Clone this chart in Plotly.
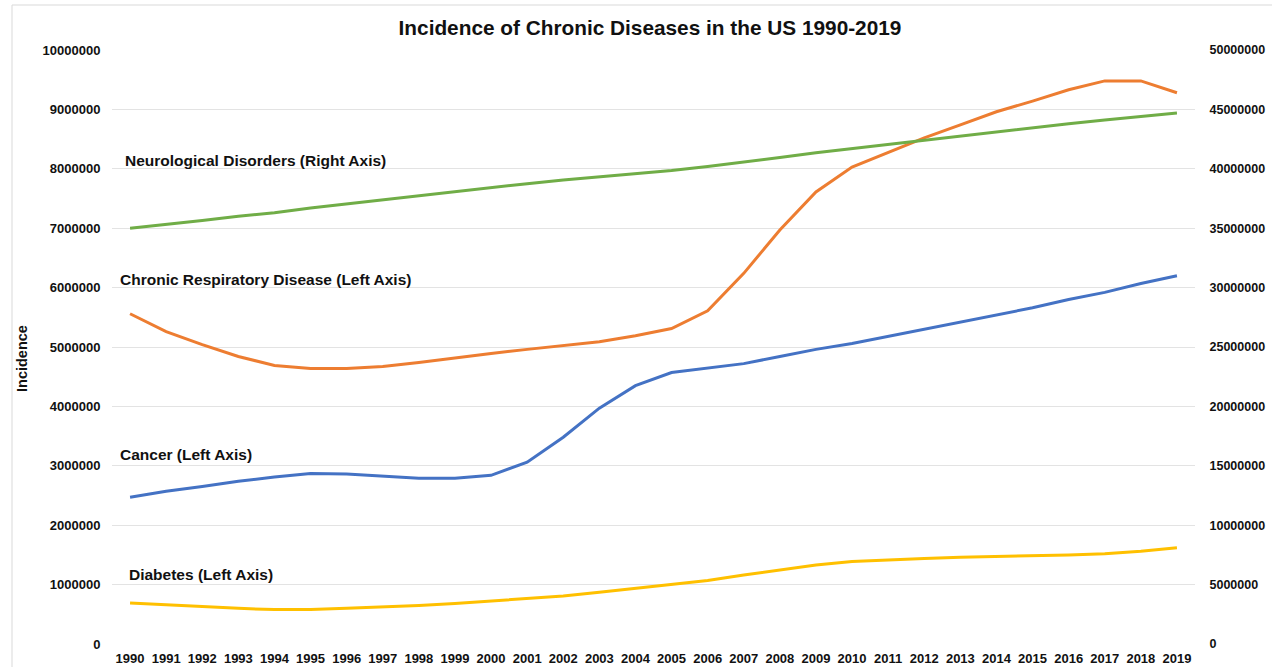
import plotly.graph_objects as go

years = list(range(1990, 2020))

neuro_right = [35.0, 35.3, 35.65, 36.0, 36.3, 36.7, 37.05, 37.4, 37.75, 38.1,
               38.4, 38.75, 39.05, 39.3, 39.55, 39.85, 40.2, 40.55, 40.95, 41.35,
               41.7, 42.1, 42.45, 42.8, 43.15, 43.5, 43.8, 44.1, 44.4, 44.7]
neuro_right = [v * 1e6 for v in neuro_right]

respiratory = [5.56, 5.26, 5.04, 4.84, 4.69, 4.64, 4.64, 4.67, 4.74, 4.82,
               4.89, 4.96, 5.03, 5.09, 5.19, 5.31, 5.61, 6.24, 6.97, 7.61,
               8.03, 8.27, 8.52, 8.74, 8.96, 9.14, 9.33, 9.48, 9.48, 9.28]
respiratory = [v * 1e6 for v in respiratory]

cancer = [2.47, 2.57, 2.65, 2.74, 2.81, 2.87, 2.86, 2.82, 2.79, 2.79,
          2.84, 3.06, 3.48, 3.97, 4.35, 4.57, 4.64, 4.72, 4.84, 4.96,
          5.06, 5.18, 5.29, 5.41, 5.53, 5.66, 5.80, 5.92, 6.07, 6.20]
cancer = [v * 1e6 for v in cancer]

diabetes = [0.69, 0.66, 0.62, 0.60, 0.58, 0.58, 0.60, 0.62, 0.65, 0.68,
            0.72, 0.76, 0.81, 0.87, 0.94, 1.00, 1.07, 1.16, 1.25, 1.33,
            1.39, 1.42, 1.44, 1.46, 1.47, 1.49, 1.50, 1.52, 1.56, 1.62]
diabetes = [v * 1e6 for v in diabetes]

series_labels = ["Neurological Disorders (Right Axis)",
                 "Chronic Respiratory Disease (Left Axis)",
                 "Cancer (Left Axis)",
                 "Diabetes (Left Axis)"]

FONT = "Liberation Sans, Arial, sans-serif"

fig = go.Figure()
fig.add_trace(go.Scatter(x=years, y=diabetes, mode="lines", name=series_labels[3],
                         line=dict(color="#FFC000", width=3)))
fig.add_trace(go.Scatter(x=years, y=cancer, mode="lines", name=series_labels[2],
                         line=dict(color="#4472C4", width=3)))
fig.add_trace(go.Scatter(x=years, y=respiratory, mode="lines", name=series_labels[1],
                         line=dict(color="#ED7D31", width=3)))
fig.add_trace(go.Scatter(x=years, y=neuro_right, mode="lines", name=series_labels[0],
                         line=dict(color="#70AD47", width=3), yaxis="y2"))

ann_pos = [(0.0102, 0.8148), (0.0055, 0.6128), (0.0055, 0.3182), (0.0139, 0.1162)]
annotations = []
for txt, (ax, ay) in zip(series_labels, ann_pos):
    annotations.append(dict(text="<b>%s</b>" % txt, x=ax, y=ay, xref="paper", yref="paper",
                            xanchor="left", yanchor="middle", showarrow=False,
                            font=dict(family=FONT, size=15.5, color="#111")))
annotations.append(dict(text="<b>Incidence</b>", x=-0.0831, y=0.4798, xref="paper", yref="paper",
                        xanchor="center", yanchor="middle", showarrow=False, textangle=-90,
                        font=dict(family=FONT, size=14.5, color="#111")))

tickfont = dict(family=FONT, size=13, color="#111", weight="bold")
tickfont_right = dict(family=FONT, size=12.5, color="#111", weight="bold")

fig.update_layout(
    width=1272, height=667,
    margin=dict(l=112, r=77, t=50, b=23, autoexpand=False),
    paper_bgcolor="white", plot_bgcolor="white",
    showlegend=False,
    title=dict(text="<b>Incidence of Chronic Diseases in the US 1990-2019</b>",
               x=650 / 1272, xanchor="center", y=1 - 28 / 667, yanchor="middle",
               font=dict(family=FONT, size=20.8, color="#111")),
    xaxis=dict(range=[1989.5, 2019.5], dtick=1, tick0=1990, showgrid=False,
               zeroline=False, showline=False, ticks="outside", ticklen=2,
               tickcolor="rgba(0,0,0,0)", tickfont=tickfont, automargin=False),
    yaxis=dict(range=[0, 10000000], dtick=1000000, tickformat="d",
               showgrid=True, gridcolor="#e3e3e3", gridwidth=1, zeroline=False,
               ticks="outside", ticklen=8, tickcolor="rgba(0,0,0,0)",
               tickfont=tickfont, automargin=False),
    yaxis2=dict(range=[0, 50000000], dtick=5000000, tickformat="d", overlaying="y",
                side="right", showgrid=False, zeroline=False,
                ticks="outside", ticklen=11, tickcolor="rgba(0,0,0,0)",
                tickfont=tickfont_right, automargin=False),
    annotations=annotations,
    shapes=[
        dict(type="line", xref="paper", yref="paper", x0=(12 - 112) / 1083, x1=1.2,
             y0=(644 - 5) / 594, y1=(644 - 5) / 594, line=dict(color="#d9d9d9", width=1)),
        dict(type="line", xref="paper", yref="paper", x0=(12 - 112) / 1083, x1=(12 - 112) / 1083,
             y0=(644 - 5) / 594, y1=-0.2, line=dict(color="#d9d9d9", width=1)),
    ],
)

fig.write_html("out.html")
